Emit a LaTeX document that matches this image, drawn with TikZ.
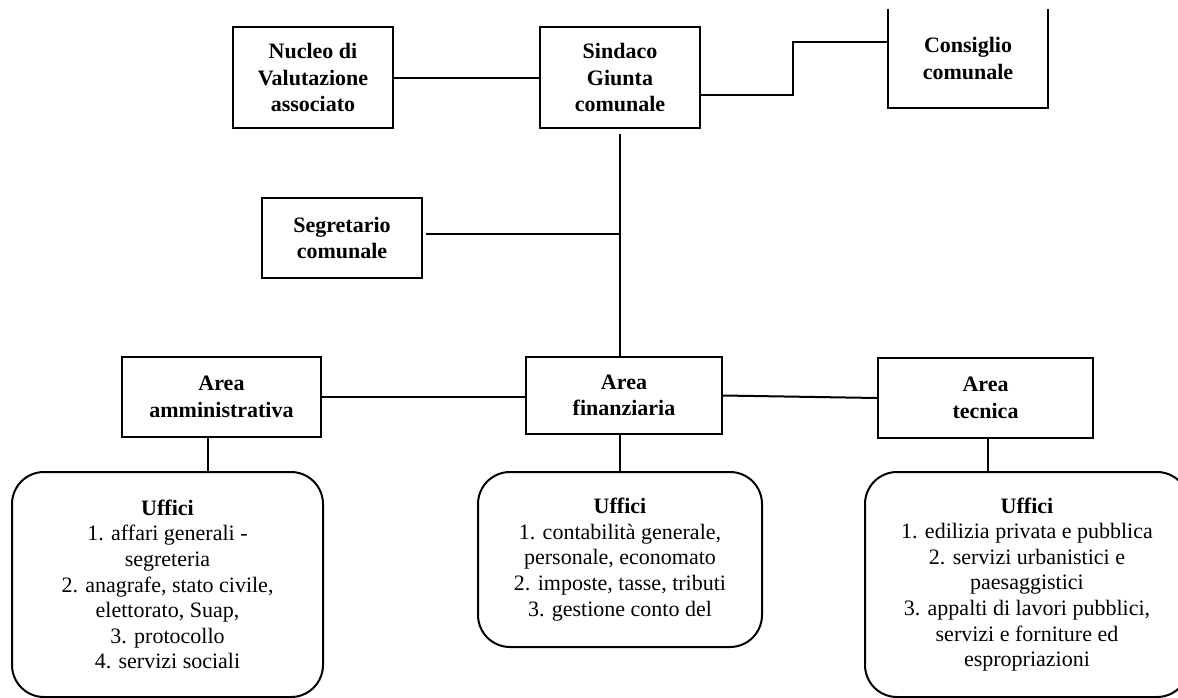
\documentclass[tikz,border=0pt]{standalone}
\usepackage{fontspec}
\setmainfont{Liberation Serif}
\usetikzlibrary{calc}
\tikzset{
  lbl/.style={font=\fontsize{22}{26.5}\selectfont\bfseries, align=center},
  boxn/.style={lbl, draw, line width=2pt, inner sep=0pt, minimum width=#1},
  uff/.style={draw, line width=2pt, rounded corners=32pt, inner sep=0pt, align=center,
     font=\fontsize{22}{25.6}\selectfont},
  conn/.style={line width=2pt}
}
\begin{document}
\begin{tikzpicture}[x=1pt,y=-1pt]
\clip (0,0) rectangle (1178,697);
\fill[white] (0,0) rectangle (1178,697);
% top level
\node[boxn=160pt, minimum height=101pt] (nv) at (313,77.5) {Nucleo di\\Valutazione\\associato};
\node[boxn=160pt, minimum height=101pt] (sg) at (620,77.5) {Sindaco\\Giunta\\comunale};
\node[lbl, inner sep=0pt, minimum width=160pt, minimum height=99pt] (cc) at (968,58.5) {Consiglio\\comunale};
\draw[line width=2pt] (cc.north west) -- (cc.south west) -- (cc.south east) -- (cc.north east);
\node[boxn=160pt, minimum height=80pt] (sc) at (342,238) {Segretario\\comunale};
% areas
\node[boxn=199pt, minimum height=80pt] (aa) at (221.5,397) {Area\\amministrativa};
\node[boxn=196pt, minimum height=77pt] (af) at (624,395.5) {Area\\finanziaria};
\node[boxn=215pt, minimum height=80pt] (at) at (985.5,398) {Area\\tecnica};
% uffici
\node[uff, minimum width=311pt, minimum height=225pt] (ua) at (167.5,584.5)
  {\textbf{Uffici}\\1. affari generali -\\segreteria\\2. anagrafe, stato civile,\\elettorato, Suap,\\3. protocollo\\4. servizi sociali};
\node[uff, minimum width=284pt, minimum height=175pt] (uf) at (620,559.5)
  {\textbf{Uffici}\\1. contabilità generale,\\personale, economato\\2. imposte, tasse, tributi\\3. gestione conto del};
\node[uff, minimum width=324pt, minimum height=225pt] (ut) at (1027,584.5)
  {\textbf{Uffici}\\1. edilizia privata e pubblica\\2. servizi urbanistici e\\paesaggistici\\3. appalti di lavori pubblici,\\servizi e forniture ed\\espropriazioni};
% connectors
\draw[conn] (nv.east) -- (sg.west);
\coordinate (k1) at (793,42);
\draw[conn] ($(sg.east)+(0,17.5)$) -| (k1) -- (k1 -| cc.west);
\draw[conn] ($(sg.south)+(0,5)$) -- (sg.south |- af.north);
\coordinate (k2) at ($(sc.east)+(3,-4)$);
\draw[conn] (k2) -- (k2 -| sg.south);
\draw[conn] (aa.east) -- (aa.east -| af.west);
\draw[conn] (af.east) -- (at.west);
\draw[conn] ([xshift=-13.5pt]aa.south) -- ([xshift=-13.5pt]aa.south |- ua.north);
\draw[conn] (uf.north |- af.south) -- (uf.north);
\draw[conn] ([xshift=2.5pt]at.south) -- ([xshift=2.5pt]at.south |- ut.north);
\end{tikzpicture}
\end{document}
